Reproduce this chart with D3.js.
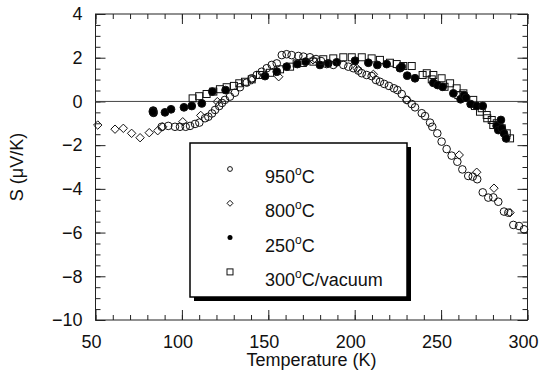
<!DOCTYPE html>
<html>
<head>
<meta charset="utf-8">
<script src="https://cdn.jsdelivr.net/npm/d3@7"></script>
<style>
  body { margin: 0; background: #fff; }
  svg { display: block; font-family: "Liberation Sans", Arial, sans-serif; }
</style>
</head>
<body>
<script>
// values: [temperature K, S µV/K]
const s950 = [[88.3,-1.16],[92.1,-1.12],[96.0,-1.16],[98.9,-1.16],[102.2,-1.16],[104.7,-1.12],[107.6,-1.03],
  [110.1,-0.97],[113.4,-0.77],[115.3,-0.70],[117.4,-0.55],[119.2,-0.39],[121.6,-0.21],[123.2,-0.07],[124.9,0.07],
  [127.8,0.22],[130.7,0.40],[133.6,0.65],[137.5,0.86],[140.4,1.06],[143.3,1.21],[146.2,1.36],[149.1,1.52],
  [152.0,1.67],[154.9,1.74],[157.8,2.12],[160.6,2.16],[163.5,2.12],[167.4,2.08],[170.3,2.05],[174.1,2.02],
  [177.6,1.94],[180.5,1.85],[183.8,1.71],[187.6,1.67],[193.4,1.67],[196.3,1.59],[199.2,1.52],[202.1,1.41],
  [204.1,1.29],[206.9,1.21],[209.8,1.16],[212.3,0.98],[214.6,0.90],[217.1,0.80],[219.8,0.71],[222.7,0.60],
  [224.7,0.52],[227.2,0.34],[230.1,0.07],[233.0,-0.12],[234.9,-0.27],[238.8,-0.54],[240.7,-0.67],[243.6,-0.97],
  [244.9,-1.16],[247.8,-1.46],[250.3,-1.84],[253.2,-2.18],[256.1,-2.48],[259.4,-2.76],[262.3,-3.11],[265.7,-3.41],
  [268.3,-3.44],[270.9,-3.56],[274.1,-4.16],[277.3,-4.40],[280.2,-4.39],[283.1,-4.59],[286.4,-5.04],[288.9,-5.09],
  [291.8,-5.65],[295.1,-5.70],[298.0,-5.85]];

const s800 = [[51.3,-1.08],[61.3,-1.27],[66.1,-1.23],[70.9,-1.46],[75.8,-1.66],[81.1,-1.43],[86.0,-1.34],
  [88.9,-1.16],[100.5,-0.93],[110.9,-0.64],[120.5,-0.01],[140.4,0.98],[156.0,1.13],[175.9,1.90],[201.2,1.52],
  [210.8,1.24],[230.1,0.07],[260.5,-2.45],[270.6,-3.24],[280.6,-3.97],[289.9,-5.09]];

const s250 = [[83.4,-0.42],[83.6,-0.52],[83.2,-0.47],[90.2,-0.50],[93.7,-0.36],[101.2,-0.27],[105.7,-0.21],
  [111.5,-0.09],[117.6,0.45],[125.3,0.52],[148.1,1.16],[154.9,1.36],[160.6,1.59],[166.8,1.71],[171.6,1.82],
  [179.9,1.67],[184.7,1.74],[189.6,1.79],[200.2,1.86],[207.9,1.77],[213.1,1.67],[218.5,1.71],[226.2,1.52],
  [227.2,1.59],[230.4,1.18],[234.9,1.06],[245.5,0.85],[248.0,0.75],[250.9,0.67],[257.1,0.37],[261.3,0.10],
  [263.3,0.29],[264.4,0.17],[267.1,-0.12],[270.6,-0.21],[274.1,-0.21],[282.2,-1.12],[283.1,-1.31],[284.6,-0.85],
  [285.1,-1.23],[286.4,-1.46],[287.6,-1.69]];

const s300 = [[106.2,0.14],[110.0,0.24],[114.3,0.34],[118.2,0.45],[122.0,0.56],[125.9,0.65],[130.1,0.71],
  [133.2,0.83],[136.5,0.90],[140.4,1.01],[145.2,1.21],[151.0,1.31],[156.8,1.47],[162.6,1.59],[166.4,1.74],
  [170.0,1.76],[176.1,1.82],[181.8,1.93],[187.6,1.97],[193.4,2.02],[198.3,2.02],[204.1,2.02],[209.8,1.97],
  [214.6,1.90],[220.4,1.77],[224.3,1.71],[228.1,1.62],[233.0,1.62],[239.3,1.21],[241.7,1.29],[244.6,1.01],
  [245.5,1.21],[250.3,1.06],[252.0,0.67],[255.2,0.83],[259.0,0.60],[260.0,0.29],[262.9,0.37],[268.6,0.07],
  [269.6,-0.21],[272.5,-0.47],[273.5,-0.31],[276.4,-0.62],[276.7,-0.77],[279.3,-0.85],[280.2,-1.08],
  [282.2,-1.00],[285.1,-1.23],[288.0,-1.46],[289.9,-1.69]];

const xTicks = [50, 100, 150, 200, 250, 300];
const yTicks = [-10, -8, -6, -4, -2, 0, 2, 4];
const legendLabels = ["950", "800", "250", "300"];
const legendSuffix = ["C", "C", "C", "C/vacuum"];

const width = 539, height = 376;
const margin = {top: 14, right: 11.5, bottom: 56, left: 95.5};

const svg = d3.select("body").append("svg")
    .attr("width", width)
    .attr("height", height);

const x = d3.scaleLinear().domain([50, 300]).range([margin.left, width - margin.right]);
const y = d3.scaleLinear().domain([-10, 4]).range([height - margin.bottom, margin.top]);

const ink = "#222";

// axes, ticks pointing inward on all four sides
function styleAxis(g) {
  g.select(".domain").remove();
  g.selectAll(".tick line").attr("stroke", ink);
  g.selectAll(".tick text").attr("fill", "#111").attr("font-size", 18);
}

const minorX = d3.range(50, 301, 10);
const minorY = d3.range(-10, 4.01, 0.5);

svg.append("g").attr("transform", `translate(0,${y(-10)})`)
    .call(d3.axisBottom(x).tickValues(minorX).tickSize(-5).tickFormat(""))
    .call(styleAxis);
svg.append("g").attr("transform", `translate(0,${y(-10)})`)
    .call(d3.axisBottom(x).tickValues(xTicks).tickSize(-10).tickPadding(15))
    .call(styleAxis)
    .call(g => g.selectAll(".tick text").attr("dx", -4.5));
svg.append("g").attr("transform", `translate(0,${y(4)})`)
    .call(d3.axisTop(x).tickValues(minorX).tickSize(-5).tickFormat(""))
    .call(styleAxis);
svg.append("g").attr("transform", `translate(0,${y(4)})`)
    .call(d3.axisTop(x).tickValues(xTicks).tickSize(-10).tickFormat(""))
    .call(styleAxis);

svg.append("g").attr("transform", `translate(${x(50)},0)`)
    .call(d3.axisLeft(y).tickValues(minorY).tickSize(-5).tickFormat(""))
    .call(styleAxis);
svg.append("g").attr("transform", `translate(${x(50)},0)`)
    .call(d3.axisLeft(y).tickValues(yTicks).tickSize(-10).tickPadding(13))
    .call(styleAxis);
svg.append("g").attr("transform", `translate(${x(300)},0)`)
    .call(d3.axisRight(y).tickValues(minorY).tickSize(-5).tickFormat(""))
    .call(styleAxis);
svg.append("g").attr("transform", `translate(${x(300)},0)`)
    .call(d3.axisRight(y).tickValues(yTicks).tickSize(-10).tickFormat(""))
    .call(styleAxis);

// frame
svg.append("rect")
    .attr("x", x(50)).attr("y", y(4))
    .attr("width", x(300) - x(50)).attr("height", y(-10) - y(4))
    .attr("fill", "none").attr("stroke", ink).attr("stroke-width", 1);

// zero line
svg.append("line")
    .attr("x1", x(50)).attr("x2", x(300))
    .attr("y1", y(0)).attr("y2", y(0))
    .attr("stroke", "#444").attr("stroke-width", 1);

// markers
function diamond(cx, cy, r) {
  return `M${cx},${cy - r}L${cx + r},${cy}L${cx},${cy + r}L${cx - r},${cy}Z`;
}

const pts = svg.append("g").attr("stroke", "#111").attr("stroke-width", 1);

pts.selectAll(".sq").data(s300).join("rect")
    .attr("x", d => x(d[0]) - 3.5).attr("y", d => y(d[1]) - 3.5)
    .attr("width", 7).attr("height", 7)
    .attr("fill", "none");

pts.selectAll(".fc").data(s250).join("circle")
    .attr("cx", d => x(d[0])).attr("cy", d => y(d[1])).attr("r", 3.9)
    .attr("fill", "#000");

pts.selectAll(".oc").data(s950).join("circle")
    .attr("cx", d => x(d[0])).attr("cy", d => y(d[1])).attr("r", 3.8)
    .attr("fill", "none");

pts.selectAll(".dm").data(s800).join("path")
    .attr("d", d => diamond(x(d[0]), y(d[1]), 4.2))
    .attr("fill", "none");

// axis titles
svg.append("text")
    .attr("x", (x(50) + x(300)) / 2).attr("y", 366)
    .attr("text-anchor", "middle").attr("font-size", 18).attr("fill", "#111")
    .text("Temperature (K)");

svg.append("text")
    .attr("transform", `translate(23,${(y(-10) + y(4)) / 2}) rotate(-90)`)
    .attr("text-anchor", "middle").attr("font-size", 18).attr("fill", "#111")
    .text("S (\u03bcV/K)");

// legend
const lg = svg.append("g");
lg.append("rect").attr("x", 194).attr("y", 147).attr("width", 217).attr("height", 154).attr("fill", "#000");
lg.append("rect").attr("x", 190).attr("y", 143).attr("width", 217).attr("height", 154)
    .attr("fill", "#fff").attr("stroke", "#000").attr("stroke-width", 1.5);

const rowY = i => 169 + i * 34.3;
const mx = 230;

lg.append("circle").attr("cx", mx).attr("cy", rowY(0)).attr("r", 2.4)
    .attr("fill", "none").attr("stroke", "#111");
lg.append("path").attr("d", diamond(mx, rowY(1), 3)).attr("fill", "none").attr("stroke", "#111");
lg.append("circle").attr("cx", mx).attr("cy", rowY(2)).attr("r", 2.5).attr("fill", "#000");
lg.append("rect").attr("x", mx - 3).attr("y", rowY(3) - 3).attr("width", 6).attr("height", 6)
    .attr("fill", "none").attr("stroke", "#111");

legendLabels.forEach((lab, i) => {
  const t = lg.append("text").attr("x", 265).attr("y", rowY(i) + 14)
      .attr("font-size", 18).attr("fill", "#111");
  t.append("tspan").text(lab);
  t.append("tspan").attr("dy", -8).attr("font-size", 12).text("o");
  t.append("tspan").attr("dy", 8).text(legendSuffix[i]);
});
</script>
</body>
</html>
